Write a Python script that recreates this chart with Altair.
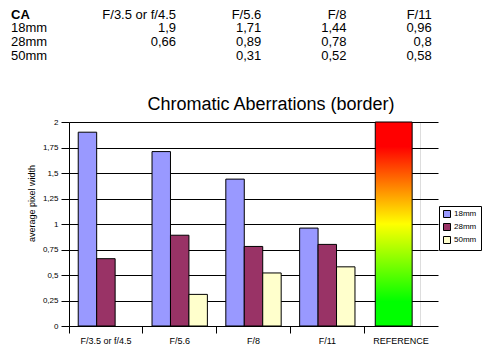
import altair as alt
import pandas as pd

# ---- data ----
categories = ["F/3.5 or f/4.5", "F/5.6", "F/8", "F/11", "REFERENCE"]
apertures = ["F/3.5 or f/4.5", "F/5.6", "F/8", "F/11"]
lenses = ["18mm", "28mm", "50mm"]
values_18mm = [1.9, 1.71, 1.44, 0.96]
values_28mm = [0.66, 0.89, 0.78, 0.8]
values_50mm = [None, 0.31, 0.52, 0.58]
reference_value = [2]
y_ticks = [0, 0.25, 0.5, 0.75, 1, 1.25, 1.5, 1.75, 2]
lens_colors = ["#9999FF", "#993366", "#FFFFCC"]

series = {"18mm": values_18mm, "28mm": values_28mm, "50mm": values_50mm}

bar_rows = []
for lens in lenses:
    for ap, v in zip(apertures, series[lens]):
        if v is not None:
            bar_rows.append({"aperture": ap, "lens": lens, "value": v})
bars_df = pd.DataFrame(bar_rows)
ref_df = pd.DataFrame({"aperture": ["REFERENCE"], "value": reference_value})

# table on top
table_rows = []
for ap in apertures:
    table_rows.append({"row": "CA", "col": ap, "text": ap})
for lens in lenses:
    for ap, v in zip(apertures, series[lens]):
        if v is not None:
            table_rows.append({"row": lens, "col": ap, "text": str(v).replace(".", ",")})
table_df = pd.DataFrame(table_rows)
rowlabel_df = pd.DataFrame({"row": lenses, "col": ["label"] * 3, "text": lenses})
ca_df = pd.DataFrame({"row": ["CA"], "col": ["label"], "text": ["CA"]})

FONT = "Liberation Sans"


def xscale():
    return alt.Scale(domain=categories, range=[0, 369], paddingInner=0, paddingOuter=0)


def yscale():
    return alt.Scale(domain=[0, 2], nice=False)


def xaxis():
    return alt.Axis(title=None, domain=False, grid=False, bandPosition=0, labelOffset=0,
                    tickSize=7, tickColor="black", labelColor="black", labelFontSize=9,
                    labelPadding=3, labelAngle=0, labelFont=FONT)


def yaxis():
    return alt.Axis(values=y_ticks, labelExpr="replace(toString(datum.value), '.', ',')",
                    labelOverlap=False,
                    grid=True, gridColor="black", gridOpacity=1, gridWidth=1,
                    domainColor="black", tickColor="black", tickSize=8,
                    labelFontSize=8, labelPadding=3, labelColor="black", labelFont=FONT,
                    title="average pixel width", titleFontSize=9, titleFontWeight="normal",
                    titleColor="black", titleFont=FONT, titleX=-38, titleY=81,
                    titleAngle=-90, titleAlign="center", titleBaseline="middle")


bars = alt.Chart(bars_df).mark_bar(stroke="black", strokeWidth=1).encode(
    x=alt.X("aperture:N", sort=categories, scale=xscale(), axis=xaxis()),
    xOffset=alt.XOffset("lens:N", sort=lenses,
                        scale=alt.Scale(domain=lenses, paddingInner=0, paddingOuter=0.5)),
    y=alt.Y("value:Q", scale=yscale(), axis=yaxis()),
    color=alt.Color("lens:N", scale=alt.Scale(domain=lenses, range=lens_colors),
                    legend=alt.Legend(title=None, orient="none", legendX=370, legendY=84,
                                      strokeColor="black", fillColor="white", padding=4,
                                      symbolType="square", symbolSize=49,
                                      symbolStrokeColor="black", symbolStrokeWidth=1,
                                      labelFontSize=8, labelFont=FONT, labelColor="black",
                                      rowPadding=1, labelOffset=3)),
)

gradient = alt.Gradient(
    gradient="linear",
    stops=[alt.GradientStop(color="#FF0000", offset=0),
           alt.GradientStop(color="#FF0000", offset=0.12),
           alt.GradientStop(color="#FFFF00", offset=0.5),
           alt.GradientStop(color="#00FF00", offset=0.88),
           alt.GradientStop(color="#00FF00", offset=1)],
    x1=0, x2=0, y1=0, y2=1,
)

ref = alt.Chart(ref_df).mark_bar(fill=gradient, stroke="black", strokeWidth=1,
                                 width=alt.RelativeBandSize(0.5), xOffset=-7.4).encode(
    x=alt.X("aperture:N", sort=categories, scale=xscale(), axis=xaxis()),
    y=alt.Y("value:Q", scale=yscale(), axis=yaxis()),
)

tx_scale = alt.Scale(domain=["label", "gap"] + apertures, range=[-63.4, 362.7], padding=0)
ty_scale = alt.Scale(domain=["CA"] + lenses, range=[-107.5, -66], padding=0)

values_text = alt.Chart(table_df).mark_text(align="right", baseline="middle", fontSize=13,
                                            font=FONT, color="black").encode(
    x=alt.X("col:N", scale=tx_scale, axis=None),
    y=alt.Y("row:N", scale=ty_scale, axis=None),
    text="text:N",
)
labels_text = alt.Chart(rowlabel_df).mark_text(align="left", baseline="middle", fontSize=13,
                                               font=FONT, color="black", dx=5.4).encode(
    x=alt.X("col:N", scale=tx_scale, axis=None),
    y=alt.Y("row:N", scale=ty_scale, axis=None),
    text="text:N",
)
ca_text = alt.Chart(ca_df).mark_text(align="left", baseline="middle", fontSize=13,
                                     font=FONT, color="black", fontWeight="bold", dx=5.4).encode(
    x=alt.X("col:N", scale=tx_scale, axis=None),
    y=alt.Y("row:N", scale=ty_scale, axis=None),
    text="text:N",
)

bar_layer = alt.layer(bars, ref)
text_layer = alt.layer(values_text, labels_text, ca_text)

chart = alt.layer(bar_layer, text_layer).resolve_scale(
    x="independent", y="independent"
).properties(
    width=351, height=204,
    padding={"left": 61, "top": 114, "right": 72, "bottom": 24},
    autosize=alt.AutoSizeParams(type="none"),
    title=alt.TitleParams("Chromatic Aberrations (border)", fontSize=18, font=FONT,
                          fontWeight="normal", color="black", anchor="middle",
                          dx=26.5, dy=113, offset=8),
).configure_view(strokeWidth=0).configure(background="white")

chart.save("out.html", embed_options={"renderer": "svg", "actions": False})
